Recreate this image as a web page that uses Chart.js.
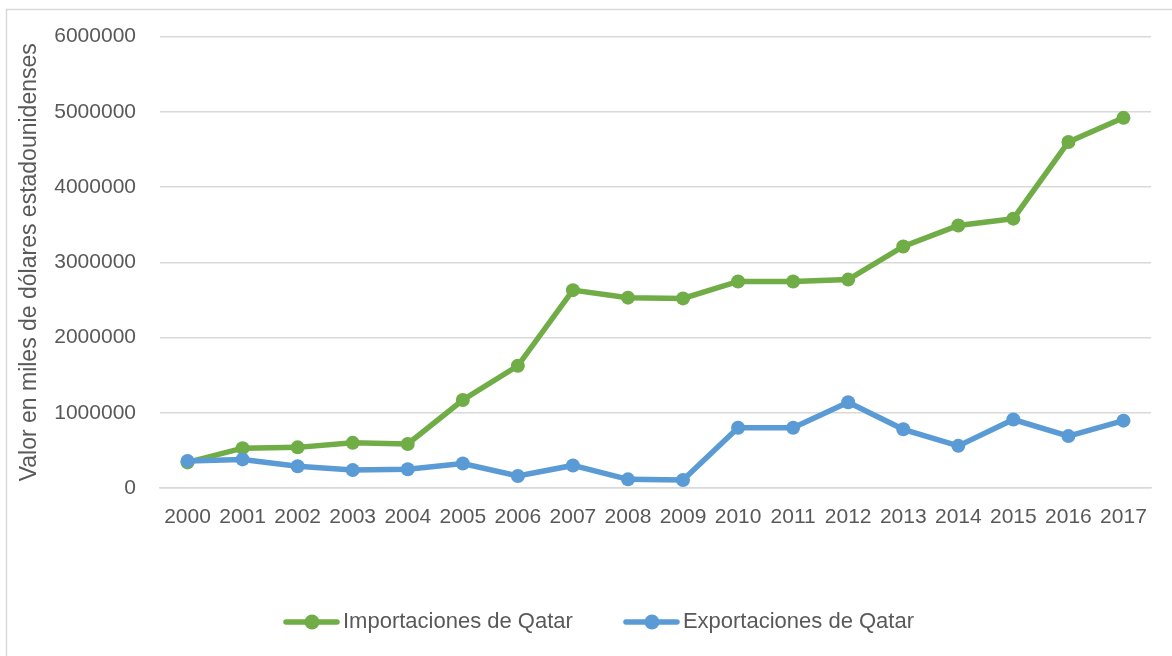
<!DOCTYPE html>
<html>
<head>
<meta charset="utf-8">
<script src="https://cdn.jsdelivr.net/npm/chart.js@4"></script>
<style>
  html, body { margin: 0; padding: 0; background: #fff; }
  canvas { display: block; }
</style>
</head>
<body>
<canvas id="chart" width="1172" height="656"></canvas>
<script>
"use strict";

// Data
const years = ["2000", "2001", "2002", "2003", "2004", "2005", "2006", "2007", "2008",
    "2009", "2010", "2011", "2012", "2013", "2014", "2015", "2016", "2017"];
const importaciones = [340000, 530000, 540000, 600000, 585000, 1170000, 1625000, 2630000, 2530000,
    2520000, 2745000, 2745000, 2770000, 3210000, 3490000, 3580000, 4600000, 4920000];
const exportaciones = [360000, 380000, 290000, 238000, 250000, 326000, 159000, 300000, 115000,
    106000, 800000, 800000, 1140000, 780000, 560000, 910000, 690000, 895000];
const seriesNames = ["Importaciones de Qatar", "Exportaciones de Qatar"];
const yTicks = [0, 1000000, 2000000, 3000000, 4000000, 5000000, 6000000];

const green = "#70ad47";
const blue = "#5b9bd5";
const textColor = "#595959";
const gridColor = "#d9d9d9";
const font = "'Liberation Sans', Arial, sans-serif";

// legend marker: line with a dot in the middle.
// The image is wider than the legend box so the line nearly touches the text,
// and the blank part on the left keeps the two items apart.
const markerBox = 89;
function legendMarker(color) {
    const c = document.createElement("canvas");
    c.width = markerBox + 16;
    c.height = 18;
    const g = c.getContext("2d");
    g.strokeStyle = color;
    g.lineWidth = 5.5;
    g.lineCap = "round";
    g.beginPath();
    g.moveTo(51, 9);
    g.lineTo(102, 9);
    g.stroke();
    g.fillStyle = color;
    g.beginPath();
    g.arc(77, 9, 7.5, 0, Math.PI * 2);
    g.fill();
    return c;
}

// light frame around the chart
const frame = {
    id: "frame",
    beforeDraw(chart) {
        const ctx = chart.ctx;
        ctx.save();
        ctx.fillStyle = "#fff";
        ctx.fillRect(0, 0, chart.width, chart.height);
        ctx.strokeStyle = gridColor;
        ctx.lineWidth = 1.5;
        ctx.strokeRect(6.5, 9.5, 1400, 1000);
        ctx.restore();
    }
};

const config = {
    type: "line",
    data: {
        labels: years,
        datasets: [
            {
                label: seriesNames[0],
                data: importaciones,
                borderColor: green,
                backgroundColor: green,
                borderWidth: 5.5,
                pointRadius: 7,
                pointHoverRadius: 7,
                pointBorderWidth: 0,
                tension: 0,
                order: 2,
                marker: legendMarker(green)
            },
            {
                label: seriesNames[1],
                data: exportaciones,
                borderColor: blue,
                backgroundColor: blue,
                borderWidth: 5.5,
                pointRadius: 7,
                pointHoverRadius: 7,
                pointBorderWidth: 0,
                tension: 0,
                order: 1,
                marker: legendMarker(blue)
            }
        ]
    },
    options: {
        responsive: false,
        animation: false,
        layout: { padding: { left: 6, right: 21, top: 22, bottom: 13 } },
        scales: {
            x: {
                offset: true,
                grid: { display: false, drawTicks: false },
                border: { display: true, color: gridColor, width: 1.5 },
                ticks: {
                    color: textColor,
                    font: { family: font, size: 21 },
                    padding: 17,
                    maxRotation: 0,
                    autoSkip: false
                },
                afterFit(scale) { scale.height = 113; }
            },
            y: {
                min: 0,
                max: 6000000,
                afterBuildTicks(scale) { scale.ticks = yTicks.map(v => ({ value: v })); },
                grid: { color: gridColor, lineWidth: 1.5, drawTicks: false },
                border: { display: false },
                ticks: {
                    color: textColor,
                    font: { family: font, size: 21 },
                    padding: 24,
                    callback: v => String(v)
                },
                title: {
                    display: true,
                    text: "Valor en miles de dólares estadounidenses",
                    color: textColor,
                    font: { family: font, size: 23 },
                    padding: { top: 10, bottom: 0 }
                },
                afterFit(scale) { scale.width = 154; }
            }
        },
        plugins: {
            tooltip: { enabled: false },
            legend: {
                position: "bottom",
                labels: {
                    usePointStyle: true,
                    pointStyleWidth: markerBox,
                    padding: 10,
                    color: textColor,
                    font: { family: font, size: 22 },
                    generateLabels(chart) {
                        return chart.data.datasets.map((ds, i) => ({
                            text: ds.label,
                            pointStyle: ds.marker,
                            fontColor: textColor,
                            lineWidth: 0,
                            strokeStyle: "transparent",
                            fillStyle: ds.borderColor,
                            hidden: false,
                            datasetIndex: i
                        }));
                    }
                }
            }
        }
    },
    plugins: [frame]
};

const myChart = new Chart(document.getElementById("chart"), config);
</script>
</body>
</html>
